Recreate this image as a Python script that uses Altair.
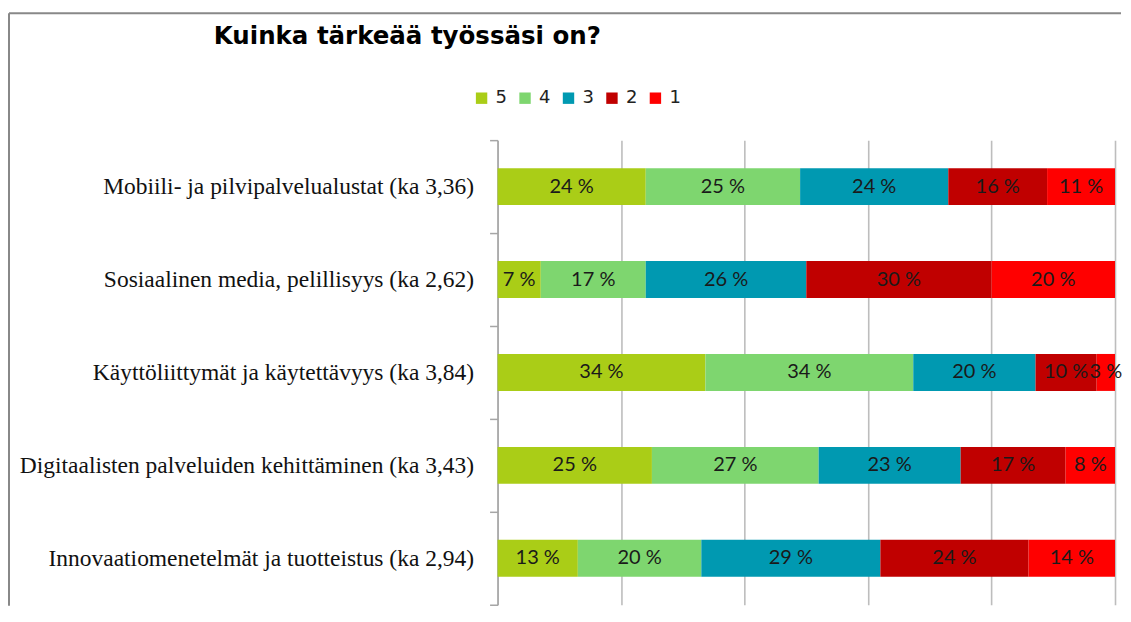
import altair as alt
import pandas as pd

categories = [
    "Mobiili- ja pilvipalvelualustat (ka 3,36)",
    "Sosiaalinen media, pelillisyys (ka 2,62)",
    "Käyttöliittymät ja käytettävyys (ka 3,84)",
    "Digitaalisten palveluiden kehittäminen (ka 3,43)",
    "Innovaatiomenetelmät ja tuotteistus (ka 2,94)",
]
levels = ["5", "4", "3", "2", "1"]
share_5 = [24, 7, 34, 25, 13]
share_4 = [25, 17, 34, 27, 20]
share_3 = [24, 26, 20, 23, 29]
share_2 = [16, 30, 10, 17, 24]
share_1 = [11, 20, 3, 8, 14]
colors = ["#aacd17", "#7ed66f", "#0099b1", "#c00000", "#ff0000"]
grid_values = [0, 0.2, 0.4, 0.6, 0.8, 1.0]

series = [share_5, share_4, share_3, share_2, share_1]
rows = []
for li, (lvl, vals) in enumerate(zip(levels, series)):
    for ci, cat in enumerate(categories):
        rows.append({"category": cat, "level": lvl, "order": li, "value": vals[ci]})
df = pd.DataFrame(rows)

base = (
    alt.Chart(df)
    .transform_stack(
        stack="value",
        groupby=["category"],
        sort=[alt.SortField("order")],
        as_=["x0", "x1"],
        offset="normalize",
    )
    .transform_calculate(xm="(datum.x0 + datum.x1) / 2", label="datum.value + ' %'")
)

y_enc = alt.Y(
    "category:N",
    sort=categories,
    scale=alt.Scale(paddingInner=0, paddingOuter=0),
    axis=alt.Axis(
        title=None,
        tickBand="extent",
        grid=False,
        tickSize=8,
        tickColor="#a6a6a6",
        tickWidth=1.5,
        domainColor="#a6a6a6",
        domainWidth=1.5,
        labelFont="Liberation Serif",
        labelFontSize=23.5,
        labelColor="#111111",
        labelPadding=16,
        labelLimit=600,
    ),
)

bars = base.mark_bar(size=37).encode(
    x=alt.X(
        "x0:Q",
        scale=alt.Scale(domain=[0, 1], nice=False),
        axis=alt.Axis(
            values=grid_values,
            grid=True,
            gridColor="#bdbdbd",
            gridWidth=1.6,
            labels=False,
            ticks=False,
            domain=False,
            title=None,
        ),
    ),
    x2="x1:Q",
    y=y_enc,
    color=alt.Color(
        "level:N",
        scale=alt.Scale(domain=levels, range=colors),
        legend=alt.Legend(
            title=None,
            orient="none",
            legendX=-25,
            legendY=-51,
            direction="horizontal",
            symbolType="square",
            symbolSize=130,
            symbolStrokeWidth=0,
            labelFont="DejaVu Sans",
            labelFontSize=18,
            labelColor="#222222",
            labelOffset=5,
            columnPadding=8.5,
        ),
    ),
)

texts = base.mark_text(font="Lato", fontSize=20, color="#1a1a1a").encode(
    x="xm:Q",
    y=alt.Y("category:N", sort=categories),
    text="label:N",
)

frame_df = pd.DataFrame({"k": [0]})
frame_top = alt.Chart(frame_df).mark_rule(color="#888888", strokeWidth=2).encode(
    x=alt.value(-489), x2=alt.value(624), y=alt.value(-127)
)
frame_left = alt.Chart(frame_df).mark_rule(color="#888888", strokeWidth=2).encode(
    x=alt.value(-489), y=alt.value(-127), y2=alt.value(466)
)

chart = (
    alt.layer(bars, texts, frame_top, frame_left)
    .properties(
        width=618,
        height=465,
        padding={"left": 0, "top": 4, "right": 0, "bottom": 0},
        title=alt.Title(
            "Kuinka tärkeää työssäsi on?",
            anchor="start",
            dx=206,
            offset=0,
            dy=56,
            baseline="alphabetic",
            font="DejaVu Sans",
            fontSize=24.5,
            fontWeight="bold",
            color="#000000",
        ),
    )
    .configure_view(stroke=None)
)

chart.save("out.html", embed_options={"renderer": "svg", "actions": False})
